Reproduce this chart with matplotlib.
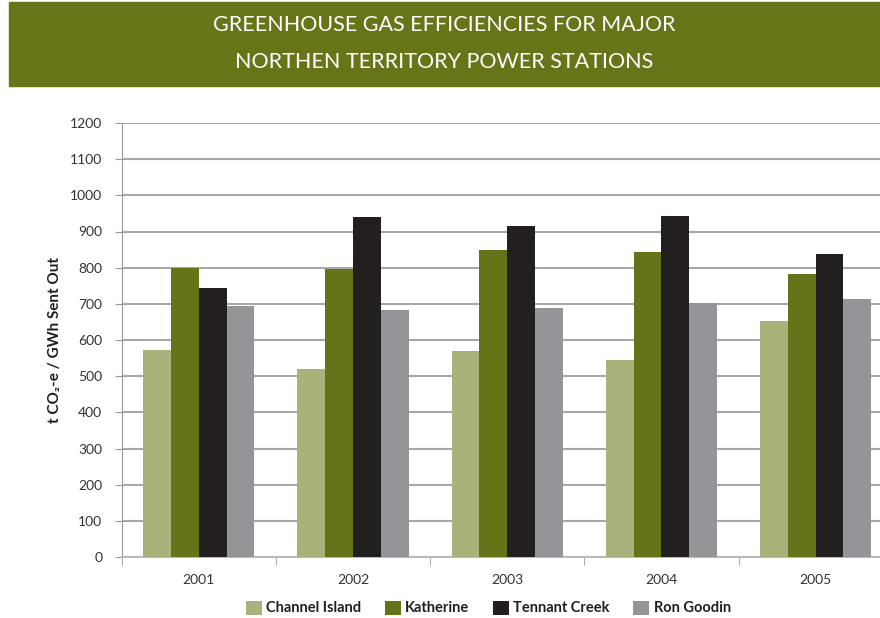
import numpy as np
import matplotlib.pyplot as plt
from matplotlib.patches import Rectangle

# Données (t CO2-e / GWh envoyé)
annees = ['2001', '2002', '2003', '2004', '2005']
channel_island = [572, 520, 570, 545, 652]
katherine = [799, 796, 849, 843, 782]
tennant_creek = [744, 940, 915, 943, 838]
ron_goodin = [694, 683, 688, 701, 713]

series = ['Channel Island', 'Katherine', 'Tennant Creek', 'Ron Goodin']
valeurs = [channel_island, katherine, tennant_creek, ron_goodin]
couleurs = ['#aab27c', '#667419', '#231f20', '#939598']

plt.rcParams['font.family'] = ['Lato', 'DejaVu Sans']

fig = plt.figure(figsize=(8.8, 6.18), dpi=100)

# Bandeau du titre
fig.patches.append(Rectangle((9 / 880, 1 - 86 / 618), 1 - 9 / 880, 84 / 618,
                             transform=fig.transFigure, color='#687418', zorder=0))
fig.text(0.505, 1 - 25 / 618, 'GREENHOUSE GAS EFFICIENCIES FOR MAJOR',
         ha='center', va='center', color='white', fontsize=15.5)
fig.text(0.505, 1 - 62 / 618, 'NORTHEN TERRITORY POWER STATIONS',
         ha='center', va='center', color='white', fontsize=15.5)

ax = fig.add_axes([121.7 / 880, 61 / 618, 1 - 121.7 / 880, 434 / 618])

x = np.arange(len(annees))
largeur = 0.18
for i, (nom, v, c) in enumerate(zip(series, valeurs, couleurs)):
    ax.bar(x + (i - 1.5) * largeur, v, largeur, color=c, label=nom, zorder=3)

ax.set_yticks(range(0, 1201, 100))
ax.yaxis.grid(True, color='#a8a8a8', linewidth=1.5, zorder=0)
ax.set_axisbelow(True)

ax.set_xticks(x)
ax.set_xticklabels(annees)
ax.set_xticks(np.arange(-0.5, len(annees), 1), minor=True)
# limites fixées après les ticks (sinon set_xticks les élargit)
ax.set_ylim(0, 1200)
ax.set_xlim(-0.5, -0.5 + (880 - 121.7) / 154.2)
ax.tick_params(axis='x', which='major', length=0, pad=12, labelsize=10, labelcolor='#333333')
ax.tick_params(axis='x', which='minor', length=6, color='#999999', direction='out')
ax.tick_params(axis='y', length=5, color='#999999', pad=9, labelsize=10, labelcolor='#333333')

for cote in ['top', 'right']:
    ax.spines[cote].set_visible(False)
ax.spines['left'].set_color('#999999')
ax.spines['bottom'].set_color('#bbbbbb')
ax.spines['bottom'].set_linewidth(1.5)

ax.set_ylabel('t CO₂-e / GWh Sent Out', fontsize=11, fontweight='bold',
              color='#231f20', labelpad=6)

leg = fig.legend(loc='center', bbox_to_anchor=(0.555, 1 - 608 / 618), ncol=4,
                 frameon=False, handlelength=1.1, handleheight=1.1,
                 handletextpad=0.3, columnspacing=1.6,
                 prop={'size': 10.5, 'weight': 'bold'})
for t in leg.get_texts():
    t.set_color('#231f20')

plt.savefig('out.png', dpi=100)
